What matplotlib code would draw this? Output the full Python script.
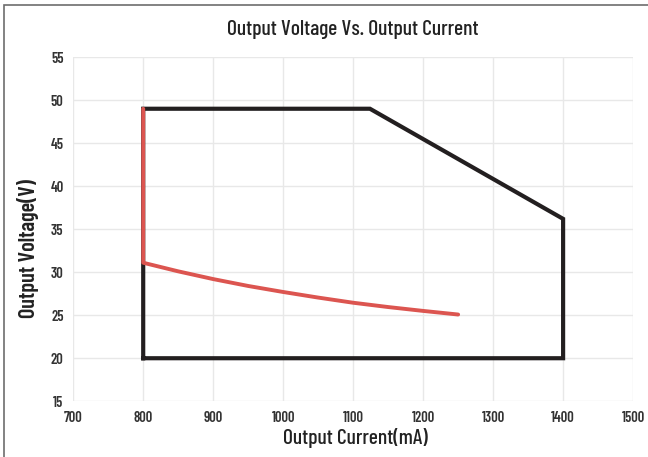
import matplotlib
matplotlib.use("Agg")
import matplotlib.pyplot as plt
from matplotlib.patches import Rectangle

# envelope of the operating window (black)
env_i = [800, 800, 1124, 1400, 1400, 800]
env_v = [20, 49, 49, 36.2, 20, 20]

# red line: vertical limit then the lower curve
red_i = [800, 800, 850, 900, 950, 1000, 1050, 1100, 1150, 1200, 1250]
red_v = [49, 31.1, 30.1, 29.2, 28.4, 27.7, 27.05, 26.45, 25.95, 25.5, 25.08]

xticks = [700, 800, 900, 1000, 1100, 1200, 1300, 1400, 1500]
yticks = [15, 20, 25, 30, 35, 40, 45, 50, 55]

plt.rcParams["font.family"] = ["Barlow Condensed", "DejaVu Sans"]

fig = plt.figure(figsize=(6.48, 4.57), dpi=100)
ax = fig.add_axes([0.113, 0.122, 0.864, 0.753])

ax.plot(env_i, env_v, color="#231f20", lw=3.0, solid_joinstyle="miter", zorder=3)
ax.plot(red_i, red_v, color="#dc5550", lw=2.8, solid_capstyle="round", zorder=4)

ax.set_xlim(700, 1500)
ax.set_ylim(15, 55)
ax.set_xticks(xticks)
ax.set_yticks(yticks)
ax.grid(True, color="#e8e8e8", lw=1.0)
ax.set_axisbelow(True)
for s in ax.spines.values():
    s.set_visible(False)
ax.tick_params(length=0, labelsize=10.5, colors="#333333", pad=7)
for lab in ax.get_xticklabels() + ax.get_yticklabels():
    lab.set_fontweight(600)

fig.text(0.545, 0.935, "Output Voltage Vs. Output Current", ha="center", va="center",
         fontsize=15.5, fontweight=500, color="#222222")
fig.text(0.549, 0.042, "Output Current(mA)", ha="center", va="center",
         fontsize=15.5, fontweight=500, color="#222222")
fig.text(0.043, 0.457, "Output Voltage(V)", ha="center", va="center", rotation=90,
         fontsize=16, fontweight=600, color="#222222")

# page frame, cut off on the right and bottom
fig.patches.append(Rectangle((0.006, -0.1), 1.2, 1.089, transform=fig.transFigure,
                             fill=False, ec="#6d6d6d", lw=1.2))

fig.savefig("out.png", dpi=100)
